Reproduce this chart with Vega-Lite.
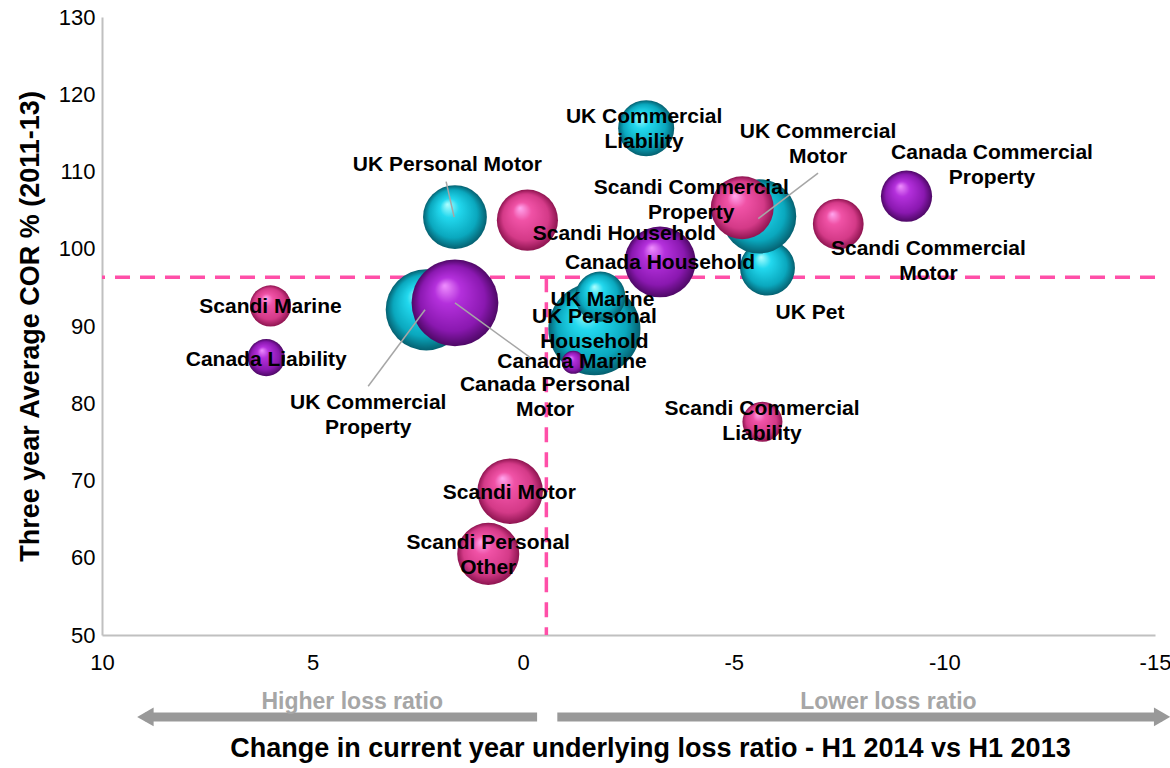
{
  "$schema": "https://vega.github.io/schema/vega-lite/v6.json",
  "width": 1053,
  "height": 618,
  "autosize": {"type": "none"},
  "padding": {"left": 102, "top": 17, "right": 15, "bottom": 133},
  "background": "white",
  "config": {
    "view": {"stroke": null},
    "font": "Liberation Sans",
    "axis": {"grid": false, "ticks": false, "domainColor": "#c0c0c0", "domainWidth": 2, "labelColor": "#000000", "labelFont": "Liberation Sans", "labelFontSize": 22, "labelFlush": false, "labelOverlap": false, "titleFont": "Liberation Sans", "titleFontSize": 27, "titleFontWeight": "bold", "titleColor": "#000000"}
  },
  "datasets": {
    "bubbles": [
      {"name": "UK Personal Household", "label": "UK Personal\nHousehold", "region": "UK", "change": -1.69, "cor": 89.6, "premium": 2700, "lx": -1.69, "ly": 91.17},
      {"name": "UK Marine", "label": "UK Marine", "region": "UK", "change": -1.83, "cor": 93.8, "premium": 800, "lx": -1.88, "ly": 93.4},
      {"name": "UK Pet", "label": "UK Pet", "region": "UK", "change": -5.8, "cor": 97.5, "premium": 960, "lx": -6.81, "ly": 91.7},
      {"name": "UK Commercial Motor", "label": "UK Commercial\nMotor", "region": "UK", "change": -5.6, "cor": 104.2, "premium": 1760, "lx": -7.0, "ly": 115.05},
      {"name": "UK Personal Motor", "label": "UK Personal Motor", "region": "UK", "change": 1.62, "cor": 104.1, "premium": 1296, "lx": 1.8, "ly": 110.8},
      {"name": "UK Commercial Liability", "label": "UK Commercial\nLiability", "region": "UK", "change": -2.92, "cor": 115.6, "premium": 1000, "lx": -2.87, "ly": 117.06},
      {"name": "UK Commercial Property", "label": "UK Commercial\nProperty", "region": "UK", "change": 2.3, "cor": 92.1, "premium": 2100, "lx": 3.68, "ly": 80.03},
      {"name": "Scandi Household", "label": "Scandi Household", "region": "Scandi", "change": -0.1, "cor": 103.7, "premium": 1190, "lx": -2.4, "ly": 101.9},
      {"name": "Scandi Commercial Property", "label": "Scandi Commercial\nProperty", "region": "Scandi", "change": -5.2, "cor": 105.3, "premium": 1260, "lx": -3.99, "ly": 107.86},
      {"name": "Scandi Commercial Motor", "label": "Scandi Commercial\nMotor", "region": "Scandi", "change": -7.48, "cor": 103.2, "premium": 820, "lx": -9.62, "ly": 100.0},
      {"name": "Scandi Commercial Liability", "label": "Scandi Commercial\nLiability", "region": "Scandi", "change": -5.68, "cor": 77.6, "premium": 510, "lx": -5.67, "ly": 79.26},
      {"name": "Scandi Marine", "label": "Scandi Marine", "region": "Scandi", "change": 6.0, "cor": 92.6, "premium": 540, "lx": 6.0, "ly": 92.5},
      {"name": "Scandi Motor", "label": "Scandi Motor", "region": "Scandi", "change": 0.31, "cor": 68.6, "premium": 1370, "lx": 0.33, "ly": 68.4},
      {"name": "Scandi Personal Other", "label": "Scandi Personal\nOther", "region": "Scandi", "change": 0.83, "cor": 60.5, "premium": 1225, "lx": 0.83, "ly": 61.9},
      {"name": "Canada Personal Motor", "label": "Canada Personal\nMotor", "region": "Canada", "change": 1.62, "cor": 93.0, "premium": 2400, "lx": -0.52, "ly": 82.36},
      {"name": "Canada Household", "label": "Canada Household", "region": "Canada", "change": -3.25, "cor": 98.3, "premium": 1600, "lx": -3.25, "ly": 98.2},
      {"name": "Canada Marine", "label": "Canada Marine", "region": "Canada", "change": -1.19, "cor": 85.3, "premium": 170, "lx": -1.16, "ly": 85.3},
      {"name": "Canada Liability", "label": "Canada Liability", "region": "Canada", "change": 6.1, "cor": 85.9, "premium": 440, "lx": 6.1, "ly": 85.6},
      {"name": "Canada Commercial Property", "label": "Canada Commercial\nProperty", "region": "Canada", "change": -9.1, "cor": 106.8, "premium": 835, "lx": -11.13, "ly": 112.43}
    ],
    "refs": [{"xref": -0.55, "yref": 96.3}],
    "leaders": [
      {"x1": 1.83, "y1": 108.7, "x2": 1.64, "y2": 104.1},
      {"x1": -7.0, "y1": 109.8, "x2": -5.58, "y2": 103.9},
      {"x1": 3.68, "y1": 82.2, "x2": 2.33, "y2": 92.1},
      {"x1": 1.62, "y1": 93.0, "x2": -0.17, "y2": 85.9}
    ],
    "arrows": [
      {"xa": -0.33, "xb": 8.97, "ya": 39.4, "dir": "left"},
      {"xa": -0.81, "xb": -15.17, "ya": 39.4, "dir": "right"}
    ],
    "notes": [
      {"text": "Higher loss ratio", "nx": 4.06, "ny": 41.3},
      {"text": "Lower loss ratio", "nx": -8.67, "ny": 41.3}
    ]
  },
  "layer": [
    {
      "data": {"name": "refs"},
      "mark": {"type": "rule", "color": "#ff4fa8", "strokeWidth": 3.5, "strokeDash": [15, 10]},
      "encoding": {
        "x": {"field": "xref", "type": "quantitative", "scale": {"domain": [-15, 10], "reverse": true, "nice": false, "zero": false},
          "axis": {"title": "Change in current year underlying loss ratio - H1 2014 vs H1 2013", "values": [10, 5, 0, -5, -10, -15], "labelExpr": "'' + datum.value", "labelPadding": 17, "titleX": 548, "titleY": 113, "titleAlign": "center", "titleBaseline": "middle"}},
        "y": {"field": "yref", "type": "quantitative", "scale": {"domain": [50, 130], "nice": false, "zero": false},
          "axis": {"title": "Three year Average COR % (2011-13)", "values": [50, 60, 70, 80, 90, 100, 110, 120, 130], "labelPadding": 7, "titleX": -72, "titleY": 309, "titleAngle": -90, "titleAlign": "center", "titleBaseline": "middle"}}
      }
    },
    {
      "data": {"name": "refs"},
      "mark": {"type": "rule", "color": "#ff4fa8", "strokeWidth": 3.5, "strokeDash": [15, 10]},
      "encoding": {
        "y": {"field": "yref", "type": "quantitative"}
      }
    },
    {
      "data": {"name": "bubbles"},
      "transform": [{"filter": "datum.region === 'UK'"}],
      "mark": {"type": "point", "shape": "circle", "filled": true, "opacity": 1, "strokeWidth": 0,
        "fill": {"gradient": "radial", "x1": 0.38, "y1": 0.3, "r1": 0, "x2": 0.5, "y2": 0.5, "r2": 0.5,
          "stops": [{"offset": 0, "color": "#b0ffff"}, {"offset": 0.3, "color": "#22d8ee"}, {"offset": 0.75, "color": "#0aa8be"}, {"offset": 1, "color": "#056070"}]}},
      "encoding": {
        "x": {"field": "change", "type": "quantitative"},
        "y": {"field": "cor", "type": "quantitative"},
        "size": {"field": "premium", "type": "quantitative", "scale": {"type": "linear", "domain": [0, 2500], "range": [0, 7854], "zero": true}, "legend": null}
      }
    },
    {
      "data": {"name": "bubbles"},
      "transform": [{"filter": "datum.region === 'Scandi'"}],
      "mark": {"type": "point", "shape": "circle", "filled": true, "opacity": 1, "strokeWidth": 0,
        "fill": {"gradient": "radial", "x1": 0.38, "y1": 0.3, "r1": 0, "x2": 0.5, "y2": 0.5, "r2": 0.5,
          "stops": [{"offset": 0, "color": "#ffa8f0"}, {"offset": 0.3, "color": "#f052a6"}, {"offset": 0.75, "color": "#d43a88"}, {"offset": 1, "color": "#8e1450"}]}},
      "encoding": {
        "x": {"field": "change", "type": "quantitative"},
        "y": {"field": "cor", "type": "quantitative"},
        "size": {"field": "premium", "type": "quantitative", "legend": null}
      }
    },
    {
      "data": {"name": "bubbles"},
      "transform": [{"filter": "datum.region === 'Canada'"}],
      "mark": {"type": "point", "shape": "circle", "filled": true, "opacity": 1, "strokeWidth": 0,
        "fill": {"gradient": "radial", "x1": 0.38, "y1": 0.3, "r1": 0, "x2": 0.5, "y2": 0.5, "r2": 0.5,
          "stops": [{"offset": 0, "color": "#f090ff"}, {"offset": 0.3, "color": "#b430dc"}, {"offset": 0.75, "color": "#8a18b0"}, {"offset": 1, "color": "#4e0866"}]}},
      "encoding": {
        "x": {"field": "change", "type": "quantitative"},
        "y": {"field": "cor", "type": "quantitative"},
        "size": {"field": "premium", "type": "quantitative", "legend": null}
      }
    },
    {
      "data": {"name": "leaders"},
      "mark": {"type": "rule", "color": "#a6a6a6", "strokeWidth": 1.5},
      "encoding": {
        "x": {"field": "x1", "type": "quantitative"},
        "y": {"field": "y1", "type": "quantitative"},
        "x2": {"field": "x2"},
        "y2": {"field": "y2"}
      }
    },
    {
      "data": {"name": "bubbles"},
      "mark": {"type": "text", "fontWeight": "bold", "fontSize": 21, "lineBreak": "\n", "lineHeight": 25, "align": "center", "baseline": "middle", "color": "#000000", "font": "Liberation Sans"},
      "encoding": {
        "x": {"field": "lx", "type": "quantitative"},
        "y": {"field": "ly", "type": "quantitative"},
        "text": {"field": "label"}
      }
    },
    {
      "data": {"name": "arrows"},
      "mark": {"type": "rule", "color": "#999999", "strokeWidth": 9, "strokeCap": "butt"},
      "encoding": {
        "x": {"field": "xa", "type": "quantitative"},
        "x2": {"field": "xb"},
        "y": {"field": "ya", "type": "quantitative"}
      }
    },
    {
      "data": {"name": "arrows"},
      "mark": {"type": "point", "filled": true, "opacity": 1, "color": "#999999", "size": 360},
      "encoding": {
        "x": {"field": "xb", "type": "quantitative"},
        "y": {"field": "ya", "type": "quantitative"},
        "shape": {"field": "dir", "type": "nominal", "scale": {"domain": ["left", "right"], "range": ["triangle-left", "triangle-right"]}, "legend": null}
      }
    },
    {
      "data": {"name": "notes"},
      "mark": {"type": "text", "fontWeight": "bold", "fontSize": 23, "align": "center", "baseline": "middle", "color": "#a6a6a6", "font": "Liberation Sans"},
      "encoding": {
        "x": {"field": "nx", "type": "quantitative"},
        "y": {"field": "ny", "type": "quantitative"},
        "text": {"field": "text"}
      }
    }
  ]
}
